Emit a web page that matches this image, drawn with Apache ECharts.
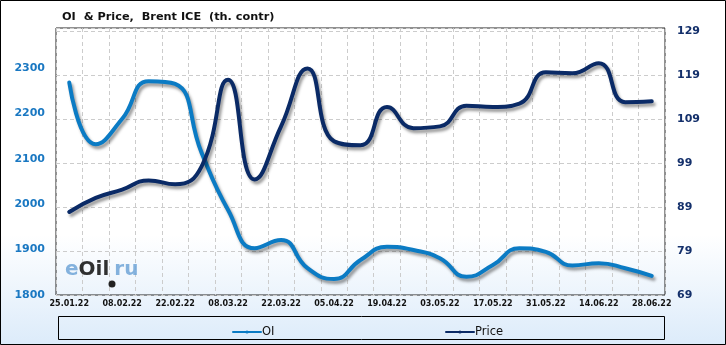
<!DOCTYPE html>
<html>
<head>
<meta charset="utf-8">
<script src="https://cdn.jsdelivr.net/npm/echarts@6/dist/echarts.min.js"></script>
<style>html,body{margin:0;padding:0;background:#fff}#c{width:726px;height:345px}</style>
</head>
<body>
<div id="c"></div>
<script>
const dates = ['25.01.22','01.02.22','08.02.22','15.02.22','22.02.22','01.03.22','08.03.22','15.03.22','22.03.22','29.03.22','05.04.22','12.04.22','19.04.22','26.04.22','03.05.22','10.05.22','17.05.22','24.05.22','31.05.22','07.06.22','14.06.22','21.06.22','28.06.22'];
const oi = [2268,2132,2188,2271,2265,2113,1987,1903,1921,1859,1835,1877,1906,1899,1881,1840,1866,1903,1895,1865,1870,1859,1842];
const price = [87.9,91.1,93.0,95.1,94.2,98.3,118.0,95.3,107.4,120.6,104.0,103.1,111.8,107.0,107.4,112.1,111.8,112.6,119.7,119.5,121.8,112.9,113.1];
const leftTicks = [1800,1900,2000,2100,2200,2300];
const rightTicks = [69,79,89,99,109,119,129];

const chart = echarts.init(document.getElementById('c'), null, {renderer:'canvas'});
const shadow = {shadowColor:'rgba(0,0,0,0.4)', shadowBlur:3, shadowOffsetX:2, shadowOffsetY:3};
chart.setOption({
  animation:false,
  backgroundColor:{type:'linear',x:0,y:0,x2:0,y2:1,colorStops:[{offset:0,color:'#ffffff'},{offset:0.68,color:'#ffffff'},{offset:1,color:'#dcebfa'}]},
  title:{text:'OI  & Price,  Brent ICE  (th. contr)', left:57, top:7, textStyle:{fontFamily:'DejaVu Sans', fontWeight:'bold', fontSize:11.3, color:'#111'}},
  grid:{left:56, right:61, top:28, bottom:50, show:true, borderColor:'#222', borderWidth:1, backgroundColor:'transparent'},
  legend:[
    {data:['OI'], left:227, top:321, itemWidth:28, itemHeight:4, itemGap:0, textStyle:{fontFamily:'DejaVu Sans', fontSize:11.5, color:'#111', padding:[0,0,0,-4]}},
    {data:['Price'], left:440, top:321, itemWidth:28, itemHeight:4, itemGap:0, textStyle:{fontFamily:'DejaVu Sans', fontSize:11.5, color:'#111', padding:[0,0,0,-4]}}
  ],
  xAxis:{type:'category', data:dates, boundaryGap:true,
    axisLine:{show:false}, axisTick:{show:false},
    axisLabel:{interval:1, margin:5, fontFamily:'DejaVu Sans', fontWeight:'bold', fontSize:8, color:'#111'},
    splitLine:{show:true, interval:0, lineStyle:{type:[4,3], color:'#cccccc', width:1}}
  },
  yAxis:[
    {type:'value', min:1800, max:2388, interval:100, position:'left',
      axisLine:{show:false}, axisTick:{show:false}, splitLine:{show:false},
      axisLabel:{margin:11, fontFamily:'DejaVu Sans', fontWeight:'bold', fontSize:11, color:'#1a78c2',
        formatter:v=> leftTicks.indexOf(Math.round(v))>=0 && Math.abs(v-Math.round(v))<1e-6 ? String(Math.round(v)) : ''}},
    {type:'value', min:69, max:129.8, interval:10, position:'right',
      axisLine:{show:false}, axisTick:{show:false},
      splitLine:{show:true, lineStyle:{type:[4,3], color:'#cccccc', width:1}},
      axisLabel:{margin:12, fontFamily:'DejaVu Sans', fontWeight:'bold', fontSize:11, color:'#14306b',
        formatter:v=> rightTicks.indexOf(Math.round(v))>=0 && Math.abs(v-Math.round(v))<1e-6 ? String(Math.round(v)) : ''}}
  ],
  series:[
    {name:'OI', type:'line', yAxisIndex:0, data:oi, smooth:0.5, symbol:'none', showSymbol:false,
      lineStyle:Object.assign({color:'#0b7bc4', width:4, cap:'round'}, shadow), itemStyle:{color:'#0b7bc4'}, z:3},
    {name:'Price', type:'line', yAxisIndex:1, data:price, smooth:0.5, symbol:'none', showSymbol:false,
      lineStyle:Object.assign({color:'#0a2a66', width:4, cap:'round'}, shadow), itemStyle:{color:'#0a2a66'}, z:4}
  ],
  graphic:[
    {type:'rect', shape:{x:0.5, y:0.5, width:725, height:344}, style:{fill:'none', stroke:'#000', lineWidth:1}, silent:true, z:100},
    {type:'rect', shape:{x:58.5, y:316.5, width:606, height:23}, style:{fill:'none', stroke:'#000', lineWidth:1}, silent:true, z:100},
    {type:'text', left:65, top:260, z:1, silent:true,
      style:{text:'{a|e}{b|Oil}{c|ru}', rich:{
        a:{fontFamily:'DejaVu Sans', fontWeight:'bold', fontSize:20, fill:'rgba(110,165,215,0.85)'},
        b:{fontFamily:'DejaVu Sans', fontWeight:'bold', fontSize:20, fill:'rgba(25,25,25,0.9)'},
        c:{fontFamily:'DejaVu Sans', fontWeight:'bold', fontSize:20, fill:'rgba(110,165,215,0.85)', padding:[0,0,0,5]}}}},
    {type:'circle', shape:{cx:112, cy:284, r:3.5}, style:{fill:'#222'}, silent:true, z:1}
  ]
});
</script>
</body>
</html>
